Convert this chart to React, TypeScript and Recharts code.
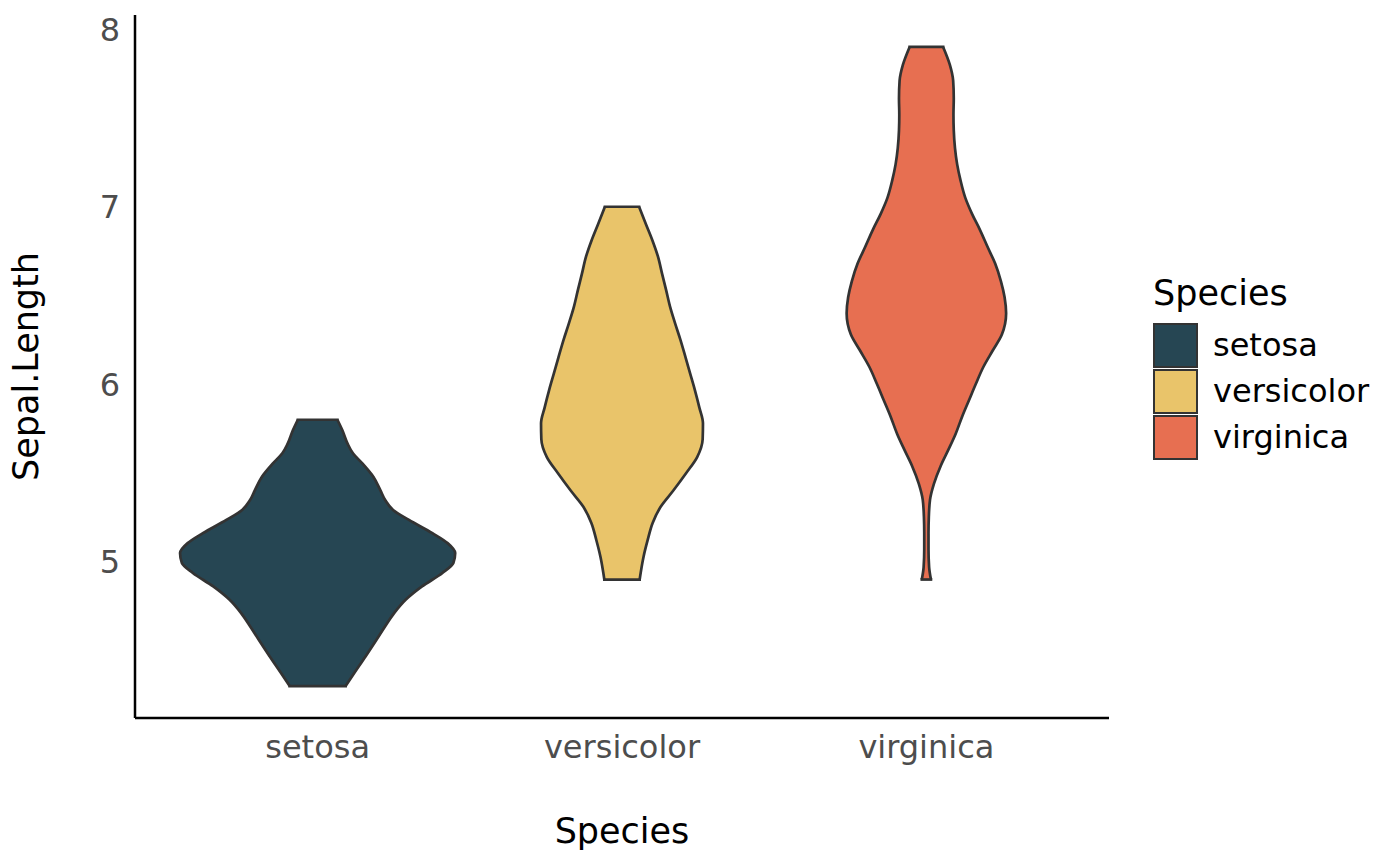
import { ComposedChart, Area, XAxis, YAxis, Legend, ReferenceLine } from "recharts";

const species = ["setosa", "versicolor", "virginica"];
const fills = ["#264653", "#E9C46A", "#E76F51"];
const yTicks = [5, 6, 7, 8];

// Sepal.Length values along each violin, with the half width of the violin there
const setosaY = [4.3, 4.375, 4.468, 4.562, 4.637, 4.712, 4.787, 4.861, 4.937, 4.993, 5.049, 5.105, 5.161, 5.236, 5.292, 5.348, 5.404, 5.479, 5.554, 5.611, 5.667, 5.742, 5.8];
const setosaW = [0.092, 0.121, 0.158, 0.194, 0.222, 0.252, 0.29, 0.343, 0.41, 0.446, 0.452, 0.427, 0.377, 0.3, 0.248, 0.222, 0.206, 0.183, 0.147, 0.116, 0.098, 0.081, 0.065];

const versicolorY = [4.9, 5.03, 5.12, 5.22, 5.31, 5.4, 5.5, 5.59, 5.69, 5.78, 5.87, 5.97, 6.06, 6.15, 6.25, 6.34, 6.43, 6.53, 6.62, 6.72, 6.81, 6.9, 7.0];
const versicolorW = [0.058, 0.071, 0.084, 0.101, 0.127, 0.168, 0.211, 0.247, 0.265, 0.266, 0.254, 0.239, 0.224, 0.209, 0.192, 0.175, 0.159, 0.145, 0.132, 0.118, 0.1, 0.079, 0.056];

const virginicaY = [4.9, 4.97, 5.07, 5.16, 5.25, 5.35, 5.44, 5.54, 5.63, 5.72, 5.82, 5.91, 6.0, 6.1, 6.19, 6.28, 6.4, 6.49, 6.58, 6.68, 6.77, 6.87, 6.96, 7.05, 7.15, 7.24, 7.33, 7.43, 7.52, 7.61, 7.71, 7.8, 7.9];
const virginicaW = [0.015, 0.009, 0.007, 0.007, 0.008, 0.012, 0.025, 0.047, 0.072, 0.096, 0.118, 0.14, 0.162, 0.188, 0.218, 0.248, 0.262, 0.257, 0.245, 0.226, 0.202, 0.176, 0.15, 0.128, 0.112, 0.101, 0.094, 0.09, 0.089, 0.09, 0.088, 0.077, 0.055];

const violinY = [setosaY, versicolorY, virginicaY];
const violinW = [setosaW, versicolorW, virginicaW];

const FONT = "DejaVu Sans";

const violins = violinY.map((ys, i) =>
  ys.map((y, j) => ({ y, range: [i + 1 - violinW[i][j], i + 1 + violinW[i][j]] }))
);

function YTitle(props: any) {
  const vb = props.viewBox || { x: 0, y: 15, width: 135, height: 703 };
  const x = vb.x + 38;
  const y = vb.y + vb.height / 2;
  return (
    <text x={x} y={y} transform={`rotate(-90 ${x} ${y})`} textAnchor="middle" fontSize={35} fontFamily={FONT} fill="#000">
      Sepal.Length
    </text>
  );
}

function XTitle(props: any) {
  const vb = props.viewBox || { x: 135, y: 718, width: 972, height: 148 };
  return (
    <text x={vb.x + vb.width / 2} y={vb.y + 125} textAnchor="middle" fontSize={35} fontFamily={FONT} fill="#000">
      Species
    </text>
  );
}

function SpeciesLegend() {
  return (
    <div style={{ fontFamily: FONT, color: "#000" }}>
      <div style={{ fontSize: 35, lineHeight: "40px", marginBottom: 9 }}>Species</div>
      {species.map((s, i) => (
        <div key={s} style={{ display: "flex", alignItems: "center", height: 46 }}>
          <div
            style={{
              width: 45,
              height: 45,
              boxSizing: "border-box",
              background: fills[i],
              border: "2.5px solid #333333",
            }}
          />
          <span style={{ fontSize: 32, lineHeight: "46px", marginLeft: 15 }}>{s}</span>
        </div>
      ))}
    </div>
  );
}

export default function App() {
  return (
    <div style={{ position: "absolute", left: 0, top: 0, background: "#fff" }}>
      <ComposedChart width={1400} height={866} layout="vertical" margin={{ top: 15, right: 51, bottom: 0, left: 0 }}>
        <XAxis
          type="number"
          domain={[0.4, 3.6]}
          allowDataOverflow
          ticks={[1, 2, 3]}
          interval={0}
          tickFormatter={(v) => species[v - 1]}
          height={148}
          tickLine={false}
          tickSize={0}
          tickMargin={17}
          axisLine={{ stroke: "#000", strokeWidth: 2.5 }}
          tick={{ fill: "#4D4D4D", fontSize: 32, fontFamily: FONT }}
          label={XTitle}
        />
        <YAxis
          type="number"
          dataKey="y"
          domain={[4.12, 8.08]}
          allowDataOverflow
          reversed
          ticks={yTicks}
          interval={0}
          width={135}
          tickLine={false}
          tickSize={0}
          tickMargin={15}
          axisLine={{ stroke: "#000", strokeWidth: 2.5 }}
          tick={{ fill: "#4D4D4D", fontSize: 32, fontFamily: FONT }}
          label={YTitle}
        />
        {violins.map((d, i) => (
          <Area
            key={species[i]}
            name={species[i]}
            data={d}
            dataKey="range"
            type="monotone"
            fill={fills[i]}
            fillOpacity={1}
            stroke="#333333"
            strokeWidth={2.7}
            dot={false}
            activeDot={false}
            isAnimationActive={false}
          />
        ))}
        {violins.map((d, i) => {
          const lo = d[0];
          const hi = d[d.length - 1];
          return [lo, hi].map((p, k) => (
            <ReferenceLine
              key={`${species[i]}-${k}`}
              segment={[
                { x: p.range[0], y: p.y },
                { x: p.range[1], y: p.y },
              ]}
              stroke="#333333"
              strokeWidth={2.7}
              strokeLinecap="square"
            />
          ));
        })}
        <Legend
          layout="horizontal"
          verticalAlign="middle"
          align="right"
          wrapperStyle={{ left: 1153, top: 273, right: "auto", width: 240 }}
          content={() => <SpeciesLegend />}
        />
      </ComposedChart>
    </div>
  );
}
